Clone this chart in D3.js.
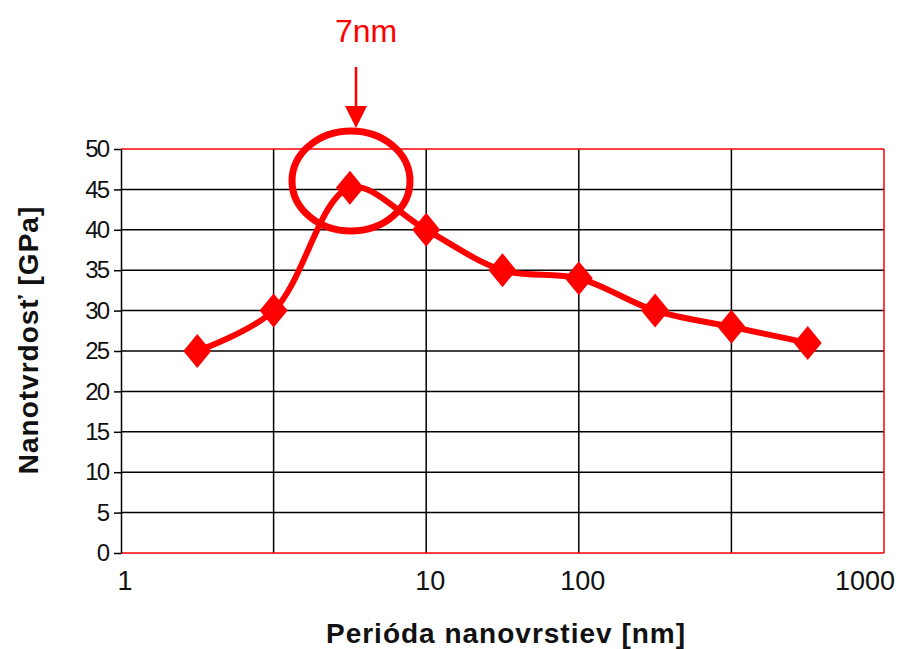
<!DOCTYPE html>
<html>
<head>
<meta charset="utf-8">
<script src="https://cdn.jsdelivr.net/npm/d3@7"></script>
<style>
  body { margin: 0; background: #fff; }
  text { font-family: "Liberation Sans", Arial, sans-serif; }
</style>
</head>
<body>
<svg id="chart" width="899" height="649"></svg>
<script>
// hodnoty z grafu (kategorie su rovnomerne rozlozene)
var pointIndex = [1, 2, 3, 4, 5, 6, 7, 8, 9];
var hardness = [25, 30, 45.2, 40, 35, 34, 30, 28, 26];
var yTicks = [0, 5, 10, 15, 20, 25, 30, 35, 40, 45, 50];
var xTickPos = [0, 4, 6, 9.7];
var xTickLabels = ['1', '10', '100', '1000'];
var xGrid = [2, 4, 6, 8];

var svg = d3.select('#chart');
var red = '#ff0000';

var x = d3.scaleLinear().domain([0, 10]).range([121, 884]);
var y = d3.scaleLinear().domain([0, 50]).range([553, 149]);

// mriezka
svg.selectAll('.hgrid').data(yTicks.filter(function(d){ return d > 0 && d < 50; }))
  .enter().append('line')
  .attr('x1', x(0)).attr('x2', x(10))
  .attr('y1', function(d){ return y(d); }).attr('y2', function(d){ return y(d); })
  .attr('stroke', '#000').attr('stroke-width', 1.5);

svg.selectAll('.vgrid').data(xGrid)
  .enter().append('line')
  .attr('x1', function(d){ return x(d); }).attr('x2', function(d){ return x(d); })
  .attr('y1', y(0)).attr('y2', y(50))
  .attr('stroke', '#000').attr('stroke-width', 1.5);

// ramik
svg.append('line').attr('x1', x(0)).attr('x2', x(10)).attr('y1', y(50)).attr('y2', y(50))
  .attr('stroke', red).attr('stroke-width', 1.5);
svg.append('line').attr('x1', x(0)).attr('x2', x(10)).attr('y1', y(0)).attr('y2', y(0))
  .attr('stroke', red).attr('stroke-width', 1.5);
svg.append('line').attr('x1', x(10)).attr('x2', x(10)).attr('y1', y(0)).attr('y2', y(50))
  .attr('stroke', red).attr('stroke-width', 1.5);

// os y
var yAxis = svg.append('g').attr('transform', 'translate(' + x(0) + ',0)')
  .call(d3.axisLeft(y).tickValues(yTicks).tickSize(7).tickPadding(6).tickSizeOuter(0));
yAxis.select('.domain').attr('stroke', '#000').attr('stroke-width', 1.5);
yAxis.selectAll('.tick line').attr('stroke', '#000').attr('stroke-width', 1.5);
yAxis.selectAll('.tick text').attr('font-size', 24).attr('fill', '#111')
  .attr('font-family', '"Liberation Sans", Arial, sans-serif').attr('letter-spacing', -2);

// os x - len popisky
svg.selectAll('.xlab').data(xTickPos)
  .enter().append('text')
  .attr('x', function(d){ return x(d) + 4; })
  .attr('y', 590)
  .attr('text-anchor', 'middle')
  .attr('font-size', 27).attr('fill', '#111')
  .text(function(d, i){ return xTickLabels[i]; });

// nazvy osi
svg.append('text')
  .attr('transform', 'translate(38,340) rotate(-90)')
  .attr('text-anchor', 'middle')
  .attr('font-size', 28).attr('font-weight', 'bold').attr('fill', '#111')
  .attr('letter-spacing', 1)
  .text('Nanotvrdosť [GPa]');

svg.append('text')
  .attr('x', 506).attr('y', 643)
  .attr('text-anchor', 'middle')
  .attr('font-size', 28).attr('font-weight', 'bold').attr('fill', '#111')
  .attr('letter-spacing', 1)
  .text('Perióda nanovrstiev [nm]');

// ciara
var pts = pointIndex.map(function(d, i){ return [x(d), y(hardness[i])]; });
svg.append('path')
  .attr('d', d3.line().curve(d3.curveCatmullRom.alpha(0.5))(pts))
  .attr('fill', 'none').attr('stroke', red).attr('stroke-width', 6);

// body - kosostvorce
svg.selectAll('.pt').data(pts)
  .enter().append('path')
  .attr('transform', function(d){ return 'translate(' + d[0] + ',' + d[1] + ')'; })
  .attr('d', 'M0,-17L14,0L0,17L-14,0Z')
  .attr('fill', red);

// zvyraznenie 7nm
svg.append('ellipse')
  .attr('cx', 351).attr('cy', 181).attr('rx', 59).attr('ry', 50)
  .attr('fill', 'none').attr('stroke', red).attr('stroke-width', 7);

svg.append('line').attr('x1', 356).attr('x2', 356).attr('y1', 67).attr('y2', 110)
  .attr('stroke', red).attr('stroke-width', 2.5);
svg.append('path').attr('d', 'M345,106L367,106L356,128Z').attr('fill', red);

svg.append('text')
  .attr('x', 366).attr('y', 42)
  .attr('text-anchor', 'middle')
  .attr('font-size', 32).attr('fill', red)
  .text('7nm');
</script>
</body>
</html>
